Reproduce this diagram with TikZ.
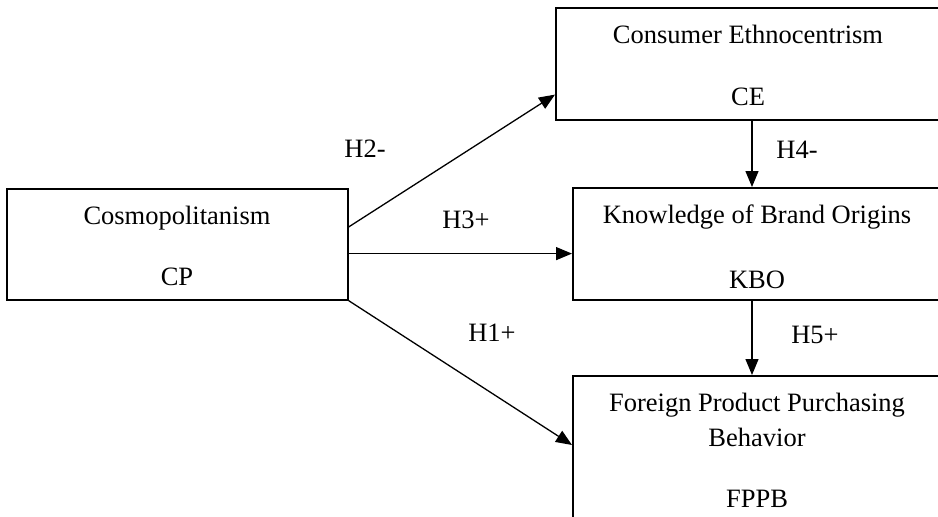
\documentclass[tikz,border=0pt]{standalone}
\usepackage{fontspec}
\setmainfont{Liberation Serif}
\usetikzlibrary{arrows.meta,calc}
\begin{document}
\begin{tikzpicture}[x=1pt,y=-1pt,
  box/.style={draw,line width=1.6pt,rectangle,anchor=north west,inner sep=0pt},
  txt/.style={anchor=base,inner sep=0pt,font=\fontsize{26.5}{30}\selectfont},
  conn/.style={line width=1.3pt,-{Triangle[length=16pt,width=13pt]}}]
\useasboundingbox (0,0) rectangle (938,517);
% boxes
\node[box,minimum width=395pt,minimum height=112pt] (ce) at (555,7) {};
\node[box,minimum width=341pt,minimum height=111pt] (cp) at (6,188) {};
\node[box,minimum width=378pt,minimum height=112pt] (kbo) at (572,187) {};
\node[box,minimum width=378pt,minimum height=160pt] (fppb) at (572,375) {};
% texts
\node[txt] (t1) at (748,43) {Consumer Ethnocentrism};
\node[txt] (t2) at (748,105) {CE};
\node[txt] (t3) at (177,224) {Cosmopolitanism};
\node[txt] (t4) at (177,285) {CP};
\node[txt] (t5) at (757,223) {Knowledge of Brand Origins};
\node[txt] (t6) at (757,288) {KBO};
\node[txt] (t7) at (757,411) {Foreign Product Purchasing};
\node[txt] (t8) at (757,446) {Behavior};
\node[txt] (t9) at (757,507) {FPPB};
% connectors
\draw[conn] ($(cp.north east)+(0,39)$) -- ($(ce.south west)+(0,-26)$);
\draw[conn] ($(cp.south east)+(0,-47)$) -- ($(kbo.south west)+(0,-47)$);
\draw[conn] (cp.south east) -- ($(fppb.north west)+(0,70)$);
\draw[conn] ($(ce.south west)+(197,0)$) coordinate (a4) -- (a4 |- kbo.north);
\draw[conn] ($(kbo.south west)+(180,0)$) coordinate (a5) -- (a5 |- fppb.north);
% labels
\node[txt] (h2) at (365,157) {H2-};
\node[txt] (h3) at (466,228) {H3+};
\node[txt] (h1) at (492,341) {H1+};
\node[txt] (h4) at (797,158) {H4-};
\node[txt] (h5) at (815,343) {H5+};
\end{tikzpicture}
\end{document}
